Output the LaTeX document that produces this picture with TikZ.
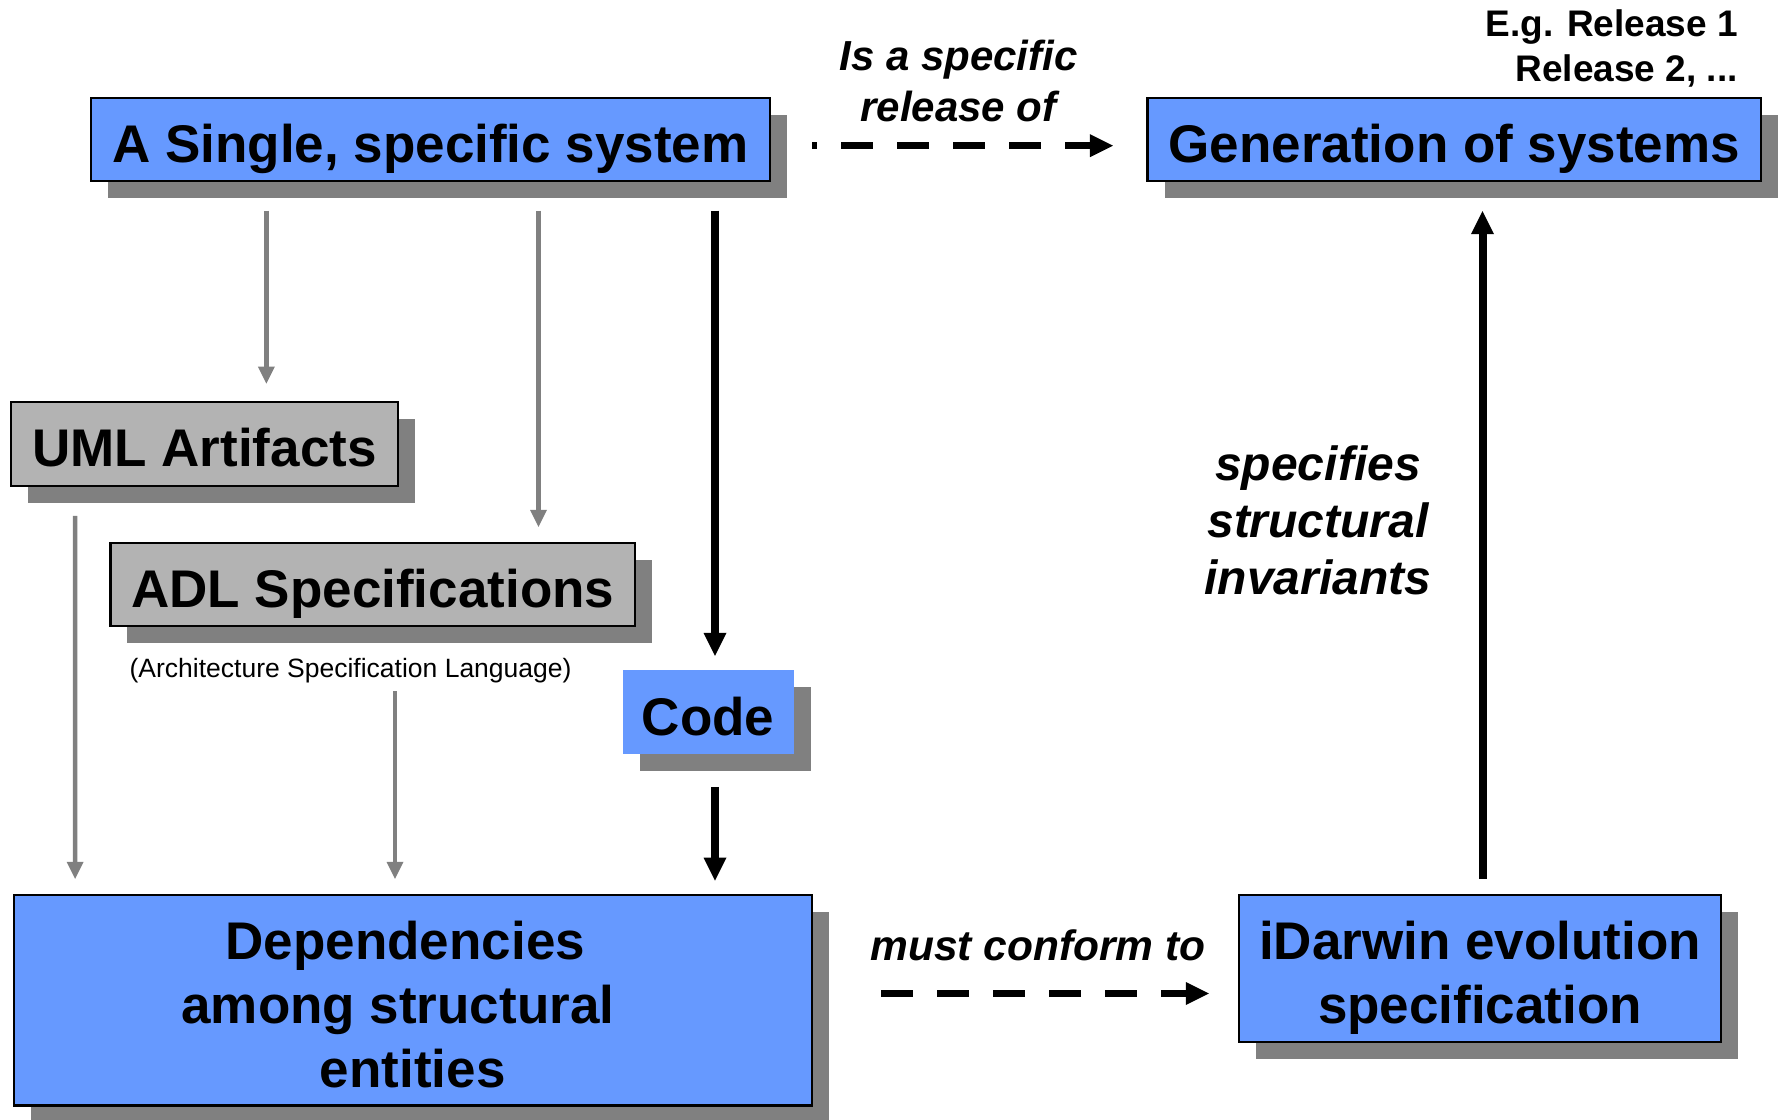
\documentclass[tikz,border=0pt]{standalone}
\usepackage{fontspec}
\setmainfont{Liberation Sans}
\usetikzlibrary{arrows.meta,shadows}

\definecolor{boxblue}{RGB}{102,153,255}
\definecolor{boxgray}{RGB}{179,179,179}
\definecolor{shadowgray}{RGB}{128,128,128}
\definecolor{linkgray}{RGB}{128,128,128}

\tikzset{
  shadowed/.style={drop shadow={shadow xshift=17pt,shadow yshift=-17pt,opacity=1,fill=shadowgray}},
  boxbase/.style={shadowed, rectangle, inner sep=0pt, line width=2.2pt,
    font=\fontsize{53}{64}\selectfont\bfseries},
  oneline/.style={text height=46pt, text depth=0pt},
  bluebox/.style={boxbase, draw=black, fill=boxblue},
  graybox/.style={boxbase, draw=black, fill=boxgray},
  plainbox/.style={boxbase, draw=none, fill=boxblue},
  labeltext/.style={inner sep=0pt, anchor=base},
  grayarrow/.style={draw=linkgray, line width=4.5pt,
    -{Triangle[length=17pt,width=17pt,line width=0pt]}},
  blackarrow/.style={draw=black, line width=8pt,
    -{Triangle[length=23pt,width=23pt,line width=0pt]}},
  dasharrow/.style={draw=black, line width=7.5pt, dash pattern=on 32pt off 24pt,
    -{Triangle[length=23pt,width=23pt,line width=0pt]}}
}

\begin{document}
\begin{tikzpicture}[x=1pt,y=-1pt]
\useasboundingbox (0,0) rectangle (1785,1119);

% boxes
\node[bluebox, oneline, minimum width=678.5pt, minimum height=83pt] (single) at (430.4,139.5) {A Single, specific system};
\node[bluebox, oneline, minimum width=613.5pt, minimum height=83pt] (gen) at (1454.3,139.5) {Generation of systems};
\node[graybox, oneline, minimum width=386.3pt, minimum height=84.3pt] (uml) at (204.5,443.9) {UML Artifacts};
\node[graybox, oneline, minimum width=524.8pt, minimum height=83pt] (adl) at (372.8,584.5) {ADL Specifications};
\node[plainbox, oneline, minimum width=170.8pt, minimum height=84.3pt] (code) at (708.1,712.2) {Code};
\node[bluebox, minimum width=798pt, minimum height=210.6pt] (dep) at (412.7,1000.1)
  {\raisebox{0pt}[20pt][101.6pt]{\begin{tabular}[t]{@{}c@{}}Dependencies\hspace*{14.8pt}\\among structural\hspace*{29.6pt}\\entities\end{tabular}}};
\node[bluebox, minimum width=482.7pt, minimum height=146.8pt] (idarwin) at (1480,968.2)
  {\raisebox{0pt}[40pt][57.8pt]{\begin{tabular}[t]{@{}c@{}}iDarwin evolution\\specification\end{tabular}}};

% free labels
\node[labeltext, anchor=base east, font=\fontsize{37}{45.5}\selectfont\bfseries] (releases) at (1738,36.4)
  {\begin{tabular}[t]{@{}r@{}}E.g. Release 1\\Release 2, ...\end{tabular}};
\node[labeltext, font=\fontsize{42}{51}\selectfont\bfseries\itshape] (relof) at (958.5,70)
  {\begin{tabular}[t]{@{}c@{}}Is a specific\\release of\end{tabular}};
\node[labeltext, font=\fontsize{42.5}{50}\selectfont\bfseries\itshape] (conform) at (1038,960) {must conform to};
\node[labeltext, font=\fontsize{48}{57}\selectfont\bfseries\itshape] (invariants) at (1318,480.5)
  {\begin{tabular}[t]{@{}c@{}}specifies\\structural\\invariants\end{tabular}};
\node[labeltext, font=\fontsize{26.5}{32}\selectfont] (adlnote) at (350.6,677) {(Architecture Specification Language)};

% connectors
\draw[grayarrow, shorten <=28.5pt, shorten >=17pt] ([xshift=-164pt]single.south) -- ([xshift=61.9pt]uml.north);
\draw[grayarrow, shorten <=28.5pt, shorten >=15pt] ([xshift=108.1pt]single.south) -- ([xshift=165.7pt]adl.north);
\draw[blackarrow, shorten <=28.5pt, shorten >=13pt] ([xshift=284.6pt]single.south) -- ([xshift=6.9pt]code.north);
\draw[grayarrow, shorten <=28.6pt, shorten >=14.8pt] ([xshift=-129.4pt]uml.south) -- ([xshift=-337.6pt]dep.north);
\draw[grayarrow, shorten <=64pt, shorten >=14.8pt] ([xshift=22.2pt]adl.south) -- ([xshift=-17.7pt]dep.north);
\draw[blackarrow, shorten <=31.4pt, shorten >=13.1pt] ([xshift=6.9pt]code.south) -- ([xshift=302.3pt]dep.north);
\draw[blackarrow, shorten <=14.8pt, shorten >=29pt] ([xshift=2.5pt]idarwin.north) -- ([xshift=28.2pt]gen.south);
\draw[dasharrow, dash phase=27pt, shorten <=41.4pt, shorten >=33.5pt] ([yshift=-6.2pt]single.east) -- ([yshift=-6.2pt]gen.west);
\draw[dasharrow, shorten <=68.3pt, shorten >=28.6pt] ([yshift=6.6pt]dep.east) -- ([yshift=-25.3pt]idarwin.west);
\end{tikzpicture}
\end{document}
